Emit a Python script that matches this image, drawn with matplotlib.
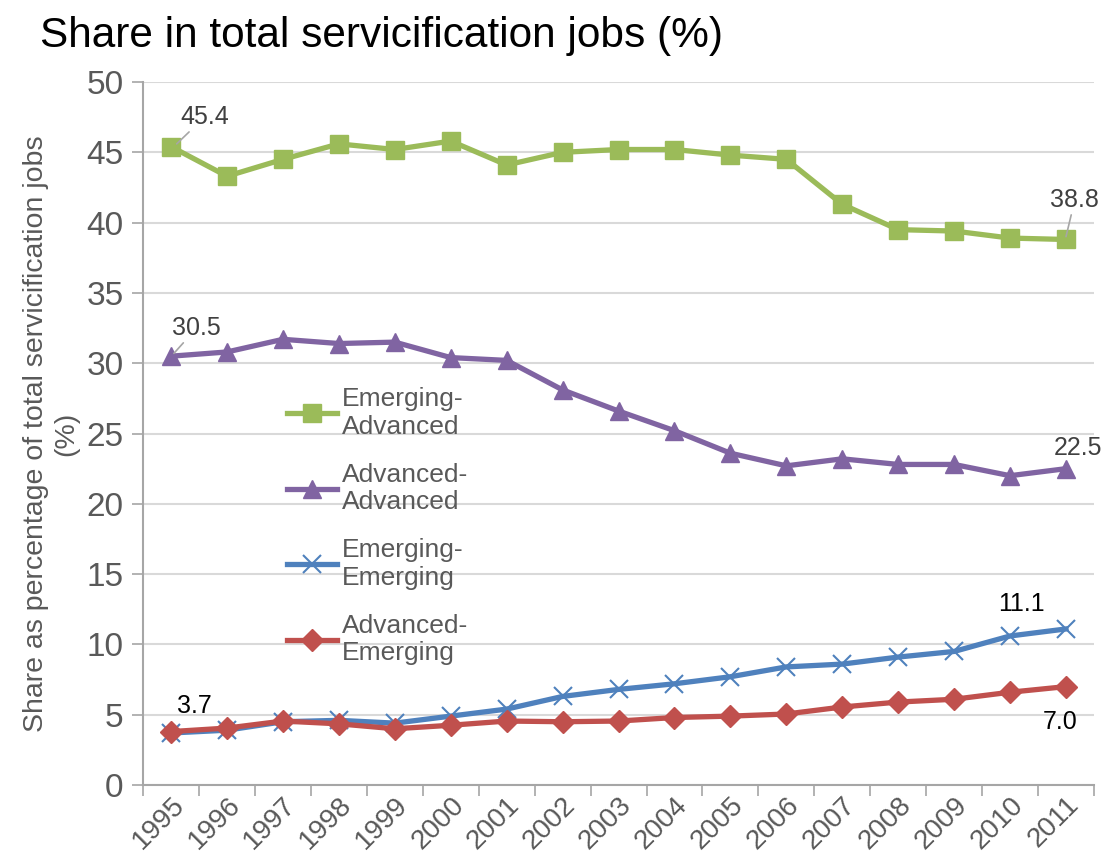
import numpy as np
import matplotlib
matplotlib.use("Agg")
from matplotlib import pyplot as plt

plt.rcParams['font.family'] = ['Liberation Sans', 'DejaVu Sans']

years = [str(y) for y in range(1995, 2012)]
emerging_advanced = [45.4, 43.3, 44.5, 45.6, 45.2, 45.8, 44.1, 45.0, 45.2, 45.2, 44.8, 44.5, 41.3, 39.5, 39.4, 38.9, 38.8]
advanced_advanced = [30.5, 30.8, 31.7, 31.4, 31.5, 30.4, 30.2, 28.1, 26.6, 25.2, 23.6, 22.7, 23.2, 22.8, 22.8, 22.0, 22.5]
emerging_emerging = [3.7, 3.9, 4.5, 4.6, 4.4, 4.9, 5.4, 6.3, 6.8, 7.2, 7.7, 8.4, 8.6, 9.1, 9.5, 10.6, 11.1]
advanced_emerging = [3.8, 4.05, 4.55, 4.35, 4.0, 4.25, 4.55, 4.5, 4.55, 4.8, 4.9, 5.05, 5.55, 5.9, 6.1, 6.6, 7.0]

grey = '#595959'

fig = plt.figure(figsize=(11.01, 8.57), dpi=100)
ax = fig.add_axes([0.130, 0.084, 0.8636, 0.8203])

x = np.arange(len(years))
ax.plot(x, emerging_advanced, color='#9BBB59', lw=3.8, marker='s', ms=13.5, label='Emerging-\nAdvanced', zorder=3)
ax.plot(x, advanced_advanced, color='#8064A2', lw=3.8, marker='^', ms=13.5, label='Advanced-\nAdvanced', zorder=3)
ax.plot(x, emerging_emerging, color='#4F81BD', lw=3.8, marker='x', ms=13.5, mew=1.5, label='Emerging-\nEmerging', zorder=3)
ax.plot(x, advanced_emerging, color='#C0504D', lw=3.8, marker='D', ms=11.5, label='Advanced-\nEmerging', zorder=4)

ax.set_xlim(-0.5, len(years) - 0.5)
ax.set_ylim(0, 50)
ax.set_yticks(range(0, 51, 5))
ax.tick_params(axis='y', labelsize=24, labelcolor=grey, color='#A6A6A6', length=8, width=1.2, pad=6)
ax.set_xticks(x)
ax.set_xticklabels(years, rotation=45, ha='right', rotation_mode='anchor')
ax.tick_params(axis='x', which='major', length=0, labelsize=20, labelcolor=grey, pad=5)
ax.set_xticks(np.arange(-0.5, len(years)), minor=True)
ax.tick_params(axis='x', which='minor', length=8, width=1.2, color='#A6A6A6')

ax.grid(axis='y', color='#D9D9D9', lw=1.5)
ax.set_axisbelow(True)
for s in ['top', 'right']:
    ax.spines[s].set_visible(False)
for s in ['left', 'bottom']:
    ax.spines[s].set_color('#A6A6A6')
    ax.spines[s].set_linewidth(1.5)

ax.set_ylabel('Share as percentage of total servicification jobs\n(%)', fontsize=20.5, color=grey, labelpad=5)

fig.text(0.036, 0.958, 'Share in total servicification jobs (%)', fontsize=30.5, va='center', ha='left')

# data labels
lab = dict(fontsize=18, va='center', ha='left')
lead = dict(arrowstyle='-', color='#A6A6A6', lw=1.2, shrinkA=0, shrinkB=0)
ax.annotate('45.4', xy=(0.1, 45.6), xytext=(0.16, 47.5), color='#404040', arrowprops=lead, **lab)
ax.annotate('30.5', xy=(0.05, 30.7), xytext=(0.02, 32.5), color='#404040', arrowprops=lead, **lab)
ax.annotate('38.8', xy=(16.0, 39.0), xytext=(15.72, 41.6), color='#404040', arrowprops=lead, **lab)
ax.text(15.78, 24.0, '22.5', color='#404040', **lab)
ax.text(14.78, 12.9, '11.1', color='black', **lab)
ax.text(15.58, 4.5, '7.0', color='black', **lab)
ax.text(0.1, 5.6, '3.7', color='black', **lab)

ax.legend(loc='upper left', bbox_to_anchor=(0.137, 0.585), frameon=False, fontsize=19, borderpad=0,
          labelcolor=grey, handlelength=1.9, handletextpad=0.2, labelspacing=0.9)

fig.savefig('out.png', dpi=100)
